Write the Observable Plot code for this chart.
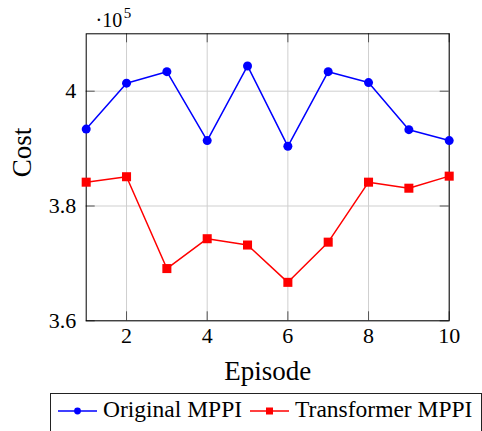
<!DOCTYPE html>
<html>
<head>
<meta charset="utf-8">
<script src="https://cdn.jsdelivr.net/npm/d3@7"></script>
<script src="https://cdn.jsdelivr.net/npm/@observablehq/plot@0.6"></script>
<style>
  body { margin: 0; background: #fff; }
  #wrap { position: relative; width: 482px; height: 431px; overflow: hidden; font-family: "Liberation Serif", serif; background: #fff; }
  #chart { position: absolute; left: 0; top: 0; }
  #chart text { font-family: "Liberation Serif", serif; }
  #legend { position: absolute; left: 49.5px; top: 392.5px; width: 432px; height: 50px; border: 1px solid #222; box-sizing: border-box; padding: 4.2px 0 0 7.5px; font-family: "Liberation Serif", serif; font-size: 23.5px; line-height: 23px; white-space: nowrap; color: #000; }
  #legend svg { display: inline-block; vertical-align: middle; }
  #legend .lab { font-family: "Liberation Serif", serif; margin-left: 6px; margin-right: 8px; }
</style>
</head>
<body>
<div id="wrap">
  <div id="chart"></div>
  <div id="legend"></div>
</div>
<script>
// ---- data ----
const episodes = [1, 2, 3, 4, 5, 6, 7, 8, 9, 10];
const originalMPPI = [393400, 401400, 403400, 391400, 404400, 390400, 403400, 401500, 393300, 391400];
const transformerMPPI = [384150, 385100, 369100, 374300, 373200, 366700, 373700, 384150, 383100, 385200];
const seriesNames = ["Original MPPI", "Transformer MPPI"];
const seriesColors = ["#0000ff", "#ff0000"];
const xTicks = [2, 4, 6, 8, 10];
const yTicks = [360000, 380000, 400000];
const yDomain = [360000, 410000];

// ---- layout ----
const W = 482, H = 392;
const mt = 33.3, mr = 33.3, mb = 71.7, ml = 85.7;
const iw = W - ml - mr, ih = H - mt - mb;
const FONT = '"Liberation Serif", serif';

const rows = [];
episodes.forEach((e, i) => {
  rows.push({episode: e, cost: originalMPPI[i], series: seriesNames[0]});
  rows.push({episode: e, cost: transformerMPPI[i], series: seriesNames[1]});
});
const blueRows = rows.filter(d => d.series === seriesNames[0]);
const redRows = rows.filter(d => d.series === seriesNames[1]);

const tickStyle = {stroke: "#555", strokeOpacity: 1, strokeWidth: 1};

const chart = Plot.plot({
  width: W, height: H,
  marginTop: mt, marginRight: mr, marginBottom: mb, marginLeft: ml,
  style: {fontFamily: FONT, fontSize: "22px", color: "#000", background: "#fff", overflow: "visible"},
  x: {domain: [1, 10], label: null},
  y: {domain: yDomain, label: null},
  color: {domain: seriesNames, range: seriesColors},
  marks: [
    Plot.gridX(xTicks, {stroke: "#cfcfcf", strokeOpacity: 1, strokeWidth: 1}),
    Plot.gridY(yTicks, {stroke: "#cfcfcf", strokeOpacity: 1, strokeWidth: 1}),
    Plot.gridX(xTicks, {...tickStyle, insetTop: ih - 9}),
    Plot.gridX(xTicks, {...tickStyle, insetBottom: ih - 9}),
    Plot.gridY(yTicks, {...tickStyle, insetRight: iw - 9}),
    Plot.gridY(yTicks, {...tickStyle, insetLeft: iw - 9}),
    Plot.frame({stroke: "#000", strokeWidth: 1}),
    Plot.axisX(xTicks, {tickSize: 0, tickPadding: 6.5, fontSize: 22, fontFamily: FONT, label: null}),
    Plot.axisY(yTicks, {tickSize: 0, tickPadding: 10, fontSize: 22, fontFamily: FONT, label: null,
      tickFormat: d => String(+(d / 1e5).toFixed(1))}),
    Plot.line(rows, {x: "episode", y: "cost", stroke: "series", z: "series", strokeWidth: 1.5}),
    Plot.dot(blueRows, {x: "episode", y: "cost", r: 4.5, fill: seriesColors[0], symbol: "circle"}),
    Plot.dot(redRows, {x: "episode", y: "cost", r: 5.1, fill: seriesColors[1], symbol: "square"}),
    Plot.text(["Episode"], {frameAnchor: "bottom", dy: 40, lineAnchor: "top", fontSize: 27, fontFamily: FONT, fill: "#000"}),
    Plot.text(["Cost"], {frameAnchor: "left", dx: -64, rotate: -90, lineAnchor: "middle", fontSize: 27, fontFamily: FONT, fill: "#000"}),
    Plot.text(["·10"], {frameAnchor: "top-left", dx: 9.3, dy: -21.5, lineAnchor: "top", textAnchor: "start", fontSize: 20, fontFamily: FONT, fill: "#000"}),
    Plot.text(["5"], {frameAnchor: "top-left", dx: 37.5, dy: -26, lineAnchor: "top", textAnchor: "start", fontSize: 15, fontFamily: FONT, fill: "#000"})
  ]
});
document.getElementById("chart").appendChild(chart);

// ---- legend ----
const legend = document.getElementById("legend");
seriesNames.forEach((name, i) => {
  const ns = "http://www.w3.org/2000/svg";
  const svg = document.createElementNS(ns, "svg");
  svg.setAttribute("width", 39); svg.setAttribute("height", 10);
  const line = document.createElementNS(ns, "line");
  line.setAttribute("x1", 0); line.setAttribute("x2", 39);
  line.setAttribute("y1", 5); line.setAttribute("y2", 5);
  line.setAttribute("stroke", seriesColors[i]); line.setAttribute("stroke-width", 1.5);
  svg.appendChild(line);
  let m;
  if (i === 0) {
    m = document.createElementNS(ns, "circle");
    m.setAttribute("cx", 19.5); m.setAttribute("cy", 5); m.setAttribute("r", 3.4);
  } else {
    m = document.createElementNS(ns, "rect");
    m.setAttribute("x", 16); m.setAttribute("y", 1.5); m.setAttribute("width", 7); m.setAttribute("height", 7);
  }
  m.setAttribute("fill", seriesColors[i]);
  svg.appendChild(m);
  legend.appendChild(svg);
  const span = document.createElement("span");
  span.className = "lab";
  span.textContent = name;
  legend.appendChild(span);
});
</script>
</body>
</html>
